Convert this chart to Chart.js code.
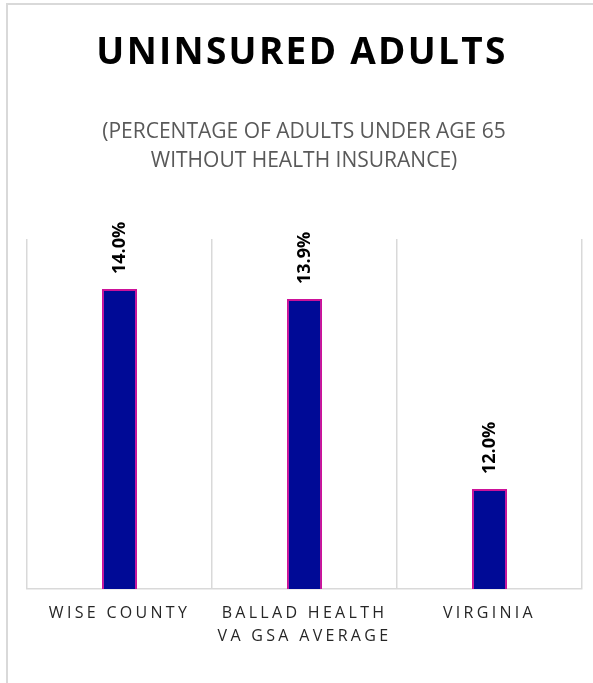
<!DOCTYPE html>
<html>
<head>
<meta charset="utf-8">
<script src="https://cdn.jsdelivr.net/npm/chart.js@4.4.1/dist/chart.umd.min.js"></script>
<style>
  html, body { margin: 0; padding: 0; background: #fff; overflow: hidden; }
  #marco {
    position: absolute; left: 6px; top: 3px; width: 700px; height: 800px;
    border-left: 2px solid #d9d9d9; border-top: 2px solid #d9d9d9;
  }
  #miGrafica { position: absolute; left: 0; top: 0; }
</style>
</head>
<body>
<div id="marco"></div>
<canvas id="miGrafica" width="593" height="683"></canvas>
<script>
// datos
const categorias = [['WISE COUNTY'], ['BALLAD HEALTH', 'VA GSA AVERAGE'], ['VIRGINIA']];
const porcentajes = [14.0, 13.9, 12.0];
const titulo = 'UNINSURED ADULTS';
const subtitulo = ['(PERCENTAGE OF ADULTS UNDER AGE 65', 'WITHOUT HEALTH INSURANCE)'];
const ejeMin = 11;
const ejeMax = 14.5;

document.addEventListener('DOMContentLoaded', () => {
    const ctx = document.getElementById('miGrafica').getContext('2d');

    // espaciado de letras para las etiquetas del eje x
    const espaciado = {
        id: 'espaciado',
        beforeDraw(chart) {
            chart.ctx.letterSpacing = '3.3px';
        }
    };

    // etiquetas de valor giradas sobre cada barra
    const etiquetasValor = {
        id: 'etiquetasValor',
        afterDatasetsDraw(chart) {
            const c = chart.ctx;
            const meta = chart.getDatasetMeta(0);
            c.save();
            c.letterSpacing = '0px';
            c.font = 'bold 18px "Open Sans"';
            c.fillStyle = '#000000';
            c.textAlign = 'left';
            c.textBaseline = 'middle';
            meta.data.forEach((barra, i) => {
                c.save();
                c.translate(barra.x, barra.y - 15);
                c.rotate(-Math.PI / 2);
                c.fillText(porcentajes[i].toFixed(1) + '%', 0, 0);
                c.restore();
            });
            c.restore();
        }
    };

    // titulo y subtitulo
    const titulos = {
        id: 'titulos',
        afterDraw(chart) {
            const c = chart.ctx;
            c.save();
            c.textAlign = 'center';
            c.textBaseline = 'alphabetic';
            c.letterSpacing = '2.3px';
            c.font = 'bold 37px "Open Sans"';
            c.fillStyle = '#000000';
            c.fillText(titulo, 302, 64);
            c.letterSpacing = '0px';
            c.font = '21px "Open Sans"';
            c.fillStyle = '#595959';
            c.fillText(subtitulo[0], 304, 138);
            c.fillText(subtitulo[1], 304, 167);
            c.restore();
        }
    };

    new Chart(ctx, {
        type: 'bar',
        data: {
            labels: categorias,
            datasets: [{
                data: porcentajes,
                backgroundColor: '#000a96',
                borderColor: '#cc1199',
                borderWidth: 2,
                categoryPercentage: 1,
                barPercentage: 0.19
            }]
        },
        options: {
            responsive: false,
            animation: false,
            layout: { padding: { left: 27, right: 11, top: 239, bottom: 0 } },
            plugins: {
                legend: { display: false },
                tooltip: { enabled: false },
                title: { display: false }
            },
            scales: {
                x: {
                    afterFit: (escala) => { escala.height = 94; },
                    grid: { color: '#d9d9d9', lineWidth: 1.5, drawTicks: false, offset: true },
                    border: { display: true, color: '#d9d9d9', width: 1.5 },
                    ticks: {
                        color: '#262626',
                        padding: 13,
                        maxRotation: 0,
                        autoSkip: false,
                        font: { family: '"Open Sans"', size: 16, lineHeight: '23px' }
                    }
                },
                y: {
                    display: false,
                    min: ejeMin,
                    max: ejeMax
                }
            }
        },
        plugins: [espaciado, etiquetasValor, titulos]
    });
});
</script>
</body>
</html>
